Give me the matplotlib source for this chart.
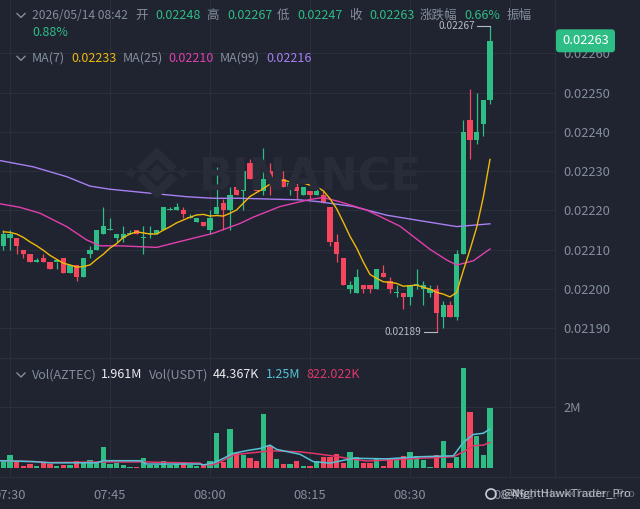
import numpy as np
import pandas as pd
import matplotlib
matplotlib.use('Agg')
import matplotlib.pyplot as plt
from matplotlib.patches import FancyBboxPatch, Polygon, Circle
from matplotlib.lines import Line2D
from matplotlib.transforms import IdentityTransform

plt.rcParams['font.family'] = ['Noto Sans CJK SC', 'DejaVu Sans']

# 1-minute AZTEC/USDT candles, 07:29 .. 08:42
times = pd.date_range('2026-05-14 07:29', '2026-05-14 08:42', freq='1min')
opens = [0.02211, 0.02213, 0.02213, 0.02210, 0.02209, 0.02207, 0.02208, 0.02207, 0.02207, 0.02208,
         0.02204, 0.02206, 0.02203, 0.02209, 0.02210, 0.02214, 0.02215, 0.02213, 0.02213, 0.02214,
         0.02215, 0.02213, 0.02214, 0.02214, 0.02215, 0.02220, 0.02220, 0.02220, 0.02218, 0.02217,
         0.02217, 0.02215, 0.02219, 0.02222, 0.02220, 0.02226, 0.02225, 0.02232, 0.02231, 0.02225,
         0.02230, 0.02228, 0.02228, 0.02226, 0.02226, 0.02224, 0.02225, 0.02224, 0.02224, 0.02221,
         0.02212, 0.02208, 0.02200, 0.02199, 0.02201, 0.02201, 0.02200, 0.02204, 0.02202, 0.02199,
         0.02199, 0.02198, 0.02201, 0.02200, 0.02199, 0.02200, 0.02193, 0.02196, 0.02193, 0.02209,
         0.02243, 0.02238, 0.02242, 0.02248]
highs = [0.02215, 0.02215, 0.02213, 0.02210, 0.02209, 0.02208, 0.02209, 0.02207, 0.02207, 0.02208,
         0.02206, 0.02206, 0.02208, 0.02211, 0.02215, 0.02221, 0.02218, 0.02214, 0.02216, 0.02215,
         0.02215, 0.02216, 0.02216, 0.02215, 0.02221, 0.02221, 0.02222, 0.02221, 0.02219, 0.02218,
         0.02217, 0.02220, 0.02231, 0.02223, 0.02226, 0.02227, 0.02230, 0.02233, 0.02231, 0.02236,
         0.02232, 0.02231, 0.02230, 0.02227, 0.02227, 0.02226, 0.02225, 0.02226, 0.02225, 0.02221,
         0.02214, 0.02208, 0.02202, 0.02205, 0.02201, 0.02201, 0.02205, 0.02206, 0.02203, 0.02201,
         0.02199, 0.02201, 0.02205, 0.02202, 0.02201, 0.02201, 0.02197, 0.02197, 0.02210, 0.02243,
         0.02251, 0.02250, 0.02248, 0.02267]
lows = [0.02210, 0.02210, 0.02209, 0.02208, 0.02207, 0.02207, 0.02207, 0.02205, 0.02205, 0.02204,
        0.02204, 0.02202, 0.02203, 0.02208, 0.02210, 0.02214, 0.02215, 0.02212, 0.02212, 0.02214,
        0.02214, 0.02209, 0.02213, 0.02214, 0.02215, 0.02220, 0.02220, 0.02218, 0.02218, 0.02217,
        0.02216, 0.02214, 0.02219, 0.02215, 0.02215, 0.02224, 0.02220, 0.02228, 0.02225, 0.02224,
        0.02224, 0.02227, 0.02226, 0.02224, 0.02223, 0.02224, 0.02223, 0.02224, 0.02222, 0.02211,
        0.02207, 0.02201, 0.02199, 0.02199, 0.02199, 0.02199, 0.02200, 0.02203, 0.02199, 0.02198,
        0.02195, 0.02196, 0.02200, 0.02196, 0.02198, 0.02189, 0.02190, 0.02193, 0.02192, 0.02209,
        0.02233, 0.02237, 0.02239, 0.02247]
closes = [0.02214, 0.02214, 0.02211, 0.02209, 0.02207, 0.02207, 0.02207, 0.02205, 0.02207, 0.02204,
          0.02206, 0.02203, 0.02208, 0.02210, 0.02215, 0.02216, 0.02215, 0.02214, 0.02214, 0.02214,
          0.02214, 0.02213, 0.02214, 0.02215, 0.02221, 0.02220, 0.02221, 0.02219, 0.02218, 0.02218,
          0.02216, 0.02218, 0.02221, 0.02220, 0.02224, 0.02224, 0.02230, 0.02228, 0.02225, 0.02228,
          0.02228, 0.02229, 0.02226, 0.02227, 0.02225, 0.02226, 0.02224, 0.02225, 0.02222, 0.02212,
          0.02209, 0.02201, 0.02201, 0.02203, 0.02200, 0.02200, 0.02205, 0.02203, 0.02200, 0.02199,
          0.02198, 0.02201, 0.02201, 0.02201, 0.02200, 0.02194, 0.02196, 0.02193, 0.02209, 0.02240,
          0.02238, 0.02240, 0.02248, 0.02263]
# closes of the six minutes before the visible window (only needed for MA7)
pre_closes = [0.02215, 0.02214, 0.02215, 0.02215, 0.02214, 0.02215]

# volume in millions of AZTEC
volumes = [0.25, 0.42, 0.20, 0.07, 0.11, 0.05, 0.20, 0.11, 0.07, 0.09,
           0.09, 0.23, 0.14, 0.24, 0.16, 0.69, 0.11, 0.16, 0.09, 0.03,
           0.03, 0.33, 0.09, 0.09, 0.23, 0.09, 0.11, 0.14, 0.09, 0.07,
           0.09, 0.23, 1.13, 0.20, 1.27, 0.47, 0.42, 0.33, 0.23, 1.75,
           0.71, 0.28, 0.11, 0.12, 0.22, 0.04, 0.07, 0.22, 0.36, 0.35,
           0.46, 0.17, 0.52, 0.35, 0.14, 0.17, 0.30, 0.06, 0.32, 0.32,
           0.38, 0.50, 0.39, 0.25, 0.03, 0.41, 0.89, 0.16, 0.35, 3.28,
           1.82, 1.04, 0.41, 1.96]

# long moving averages (candle index, value)
ma25_pos = [-0.5, 2.5, 5.5, 9.5, 12.5, 14.5, 17.5, 23, 26.5, 31.5, 35.5, 37.5, 41.5,
            46, 48, 50.5, 54.5, 59.5, 64, 66.5, 68, 70.5, 73]
ma25_val = [0.022217, 0.022208, 0.022193, 0.022159, 0.022125, 0.022110, 0.022110, 0.022106,
            0.022121, 0.022142, 0.022167, 0.022183, 0.022210, 0.022228, 0.022233, 0.022222,
            0.022201, 0.022160, 0.022101, 0.022074, 0.022061, 0.022072, 0.022102]
ma99_pos = [-0.5, 4.5, 9.5, 13, 16, 22, 27.5, 31.5, 35.5, 44.5, 47.5, 52.5, 57.5, 62.5, 68, 73]
ma99_val = [0.022327, 0.022311, 0.022286, 0.022262, 0.022254, 0.022244, 0.022235, 0.022231,
            0.022231, 0.022227, 0.022222, 0.022210, 0.022188, 0.022174, 0.022159, 0.022166]

vma_fast_pos = [-0.5, 4.5, 7, 14, 15, 20.5, 21.5, 29.5, 30, 31.5, 32.5, 34.5, 36.5, 38.5,
                40, 41, 44.5, 46.5, 49, 52.5, 57.5, 62.5, 67.5, 69, 70.5, 72, 73]
vma_fast_val = [0.23, 0.20, 0.16, 0.16, 0.23, 0.23, 0.12, 0.12, 0.09, 0.16, 0.25, 0.47, 0.56,
                0.63, 0.74, 0.60, 0.44, 0.20, 0.15, 0.31, 0.29, 0.36, 0.39, 0.83, 1.09, 1.13, 1.27]
vma_slow_pos = [-0.5, 4.5, 7, 14.5, 20.5, 29.5, 30, 31.5, 32.5, 34.5, 36.5, 40, 41, 44.5,
                46.5, 49, 52.5, 54.5, 57.5, 62.5, 67.5, 69, 70.5, 72, 73]
vma_slow_val = [0.23, 0.20, 0.17, 0.19, 0.19, 0.15, 0.09, 0.10, 0.18, 0.42, 0.47, 0.55, 0.55,
                0.52, 0.47, 0.40, 0.28, 0.22, 0.25, 0.31, 0.36, 0.52, 0.72, 0.74, 0.83]

price_ticks = [0.0219, 0.0220, 0.0221, 0.0222, 0.0223, 0.0224, 0.0225, 0.0226]
time_ticks = ['07:30', '07:45', '08:00', '08:15', '08:30', '08:45']

BG = '#1f2430'
GRID = '#2a303b'
TXT = '#848e9c'
UP = '#2ebd85'
DN = '#f6465d'
C_MA7 = '#f0b90b'
C_MA25 = '#e23fae'
C_MA99 = '#a77ff2'
C_VF = '#56c3d6'
C_VS = '#e2366a'
ANN = '#b7bdc6'
FS = 9.0

W, H = 640, 509
fig = plt.figure(figsize=(6.4, 5.09), dpi=100, facecolor=BG)


def fx(x):
    return x / W


def fy(y):
    return 1 - y / H


ax = fig.add_axes([0, fy(357.7), 555 / W, 357.7 / H], facecolor=BG)
axv = fig.add_axes([0, fy(476.7), 555 / W, 119 / H], facecolor=BG)

idx = np.arange(len(times))
o = np.array(opens)
c = np.array(closes)
colors = np.where(c >= o, UP, DN)

# candles
ax.vlines(idx, lows, highs, colors=colors, lw=0.9, zorder=2)
ax.bar(idx, np.maximum(np.abs(c - o), 3e-6), bottom=np.minimum(o, c), width=0.8,
       color=colors, lw=0, zorder=2)

ma7 = pd.Series(pre_closes + closes).rolling(7).mean().iloc[len(pre_closes):].to_numpy()
ax.plot(ma99_pos, ma99_val, color=C_MA99, lw=1.0, zorder=3)
ax.plot(ma25_pos, ma25_val, color=C_MA25, lw=1.0, zorder=3)
ax.plot(idx, ma7, color=C_MA7, lw=1.0, zorder=3)

# high / low markers
i_hi = int(np.argmax(highs))
i_lo = int(np.argmin(lows))
ax.plot([i_hi - 1.9, i_hi], [highs[i_hi]] * 2, color=ANN, lw=0.8, zorder=4)
ax.text(i_hi - 2.3, highs[i_hi], f'{highs[i_hi]:.5f}', ha='right', va='center',
        fontsize=7.3, color=ANN, zorder=4)
ax.plot([i_lo - 1.9, i_lo], [lows[i_lo]] * 2, color=ANN, lw=0.8, zorder=4)
ax.text(i_lo - 2.3, lows[i_lo], f'{lows[i_lo]:.5f}', ha='right', va='center',
        fontsize=7.3, color=ANN, zorder=4)

tick_pos = [1, 16, 31, 46, 61, 76]
for a in (ax, axv):
    a.set_xlim(-0.5, 82.75)
    a.set_xticks(tick_pos)
    a.grid(True, color=GRID, lw=0.8, zorder=0)
    a.set_axisbelow(True)
    for s in a.spines.values():
        s.set_visible(False)
    a.yaxis.tick_right()
    a.tick_params(length=0, colors=TXT, labelsize=9.3, pad=6)

ax.set_ylim(0.0218253, 0.0227356)
ax.set_yticks(price_ticks)
ax.set_yticklabels([f'{p:.5f}' for p in price_ticks])
ax.tick_params(labelbottom=False)

# volume panel
axv.bar(idx, volumes, width=0.8, color=colors, lw=0, zorder=2)
axv.plot(vma_slow_pos, vma_slow_val, color=C_VS, lw=1.1, zorder=3)
axv.plot(vma_fast_pos, vma_fast_val, color=C_VF, lw=1.1, zorder=3)
axv.set_ylim(-0.295, 3.607)
axv.set_yticks([2])
axv.set_yticklabels(['2M'])
axv.set_xticklabels(time_ticks)
axv.tick_params(axis='x', pad=9)

# panel separators
for yy in (357.7, 476.7):
    fig.add_artist(Line2D([0, 1], [fy(yy)] * 2, color=GRID, lw=0.9))
fig.add_artist(Line2D([fx(555)] * 2, [fy(0), fy(476.7)], color=GRID, lw=0.9))

# faint exchange watermark
wm = '#272c38'
logo = [
    [(157, 164), (166, 173), (157, 182), (148, 173)],
    [(131, 168), (136, 173), (131, 178), (126, 173)],
    [(183, 168), (188, 173), (183, 178), (178, 173)],
    [(157, 147), (177, 167), (171, 173), (157, 159), (143, 173), (137, 167)],
    [(157, 199), (177, 179), (171, 173), (157, 187), (143, 173), (137, 179)],
]
for pts in logo:
    fig.add_artist(Polygon([(fx(x), fy(y)) for x, y in pts], closed=True, fc=wm, ec='none',
                           transform=fig.transFigure, zorder=0.5))
fig.text(fx(199), fy(178), 'BINANCE', family='DejaVu Sans', fontweight='bold', fontsize=32,
         color=wm, ha='left', va='center', zorder=0.5)


# header rows
def chevron(y):
    fig.add_artist(Line2D([fx(17), fx(21), fx(25)], [fy(y - 2), fy(y + 2), fy(y - 2)],
                          color=TXT, lw=1.0))


def put(x, y, s, col=TXT, size=FS):
    fig.text(fx(x), fy(y), s, color=col, fontsize=size, ha='left', va='center')


chevron(15.5)
put(32, 15.5, '2026/05/14 08:42', TXT, 8.7)
row1 = [(135, '开', TXT), (155, '0.02248', UP),
        (206, '高', TXT), (227, '0.02267', UP), (277, '低', TXT), (297, '0.02247', UP),
        (349, '收', TXT), (369, '0.02263', UP), (420, '涨跌幅', TXT), (464, '0.66%', UP),
        (507, '振幅', TXT)]
for x, s, col in row1:
    put(x, 15.5, s, col)
put(32, 32.5, '0.88%', UP)

chevron(58.3)
row_ma = [(32, 'MA(7)', TXT), (71, f'{ma7[-1]:.5f}', C_MA7), (123, 'MA(25)', TXT),
          (168, '0.02210', C_MA25), (220, 'MA(99)', TXT), (266.5, '0.02216', C_MA99)]
for x, s, col in row_ma:
    put(x, 58.3, s, col)

chevron(375)
row_vol = [(32, 'Vol(AZTEC)', TXT), (101, '1.961M', '#eaecef'), (149, 'Vol(USDT)', TXT),
           (213, '44.367K', '#eaecef'), (266, '1.25M', C_VF), (306, '822.022K', C_VS)]
for x, s, col in row_vol:
    put(x, 375, s, col)

# last price tag
fig.add_artist(FancyBboxPatch((556, H - 52.3), 59, 23, boxstyle='round,pad=0,rounding_size=3.5',
                              fc=UP, ec='none', transform=IdentityTransform(), zorder=10))
fig.text(fx(585.5), fy(41), f'{closes[-1]:.5f}', color='white', fontsize=9.3,
         ha='center', va='center', zorder=11)

# corner watermark
fig.add_artist(Circle((491, H - 494), 5, fc='none', ec='#c9cdd3', lw=1.2,
                      transform=IdentityTransform(), zorder=10))
fig.text(fx(505), fy(494), '@NightHawkTrader_Pro', color='#c9cdd3', fontsize=8.2,
         ha='left', va='center', alpha=0.45, zorder=10)
fig.text(fx(501), fy(494), '@NightHawkTrader_Pro', color='#d6d9de', fontsize=8.2,
         ha='left', va='center', alpha=0.8, zorder=10)

fig.savefig('out.png', dpi=100, facecolor=BG)
